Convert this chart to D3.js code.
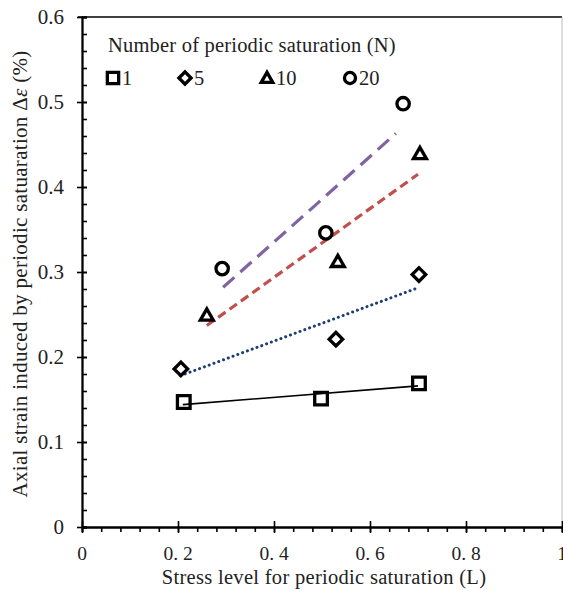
<!DOCTYPE html>
<html><head><meta charset="utf-8">
<script src="https://cdn.jsdelivr.net/npm/d3@7"></script>
<style>body{margin:0;background:#fff}svg{display:block}text{font-family:"Liberation Serif","Times New Roman",serif;fill:#222}</style>
</head><body><svg id="c" width="563" height="593"></svg>
<script>
const xTicks=[0,0.2,0.4,0.6,0.8,1];
const xTickLabels=["0","0. 2","0. 4","0. 6","0. 8","1"];
const yTicks=[0,0.1,0.2,0.3,0.4,0.5,0.6];
const yTickLabels=["0","0.1","0.2","0.3","0.4","0.5","0.6"];
const seriesNames=["1","5","10","20"];
const n1X=[0.212,0.498,0.702], n1Y=[0.147,0.151,0.169];
const n5X=[0.206,0.529,0.702], n5Y=[0.186,0.221,0.297];
const n10X=[0.260,0.533,0.704], n10Y=[0.249,0.312,0.439];
const n20X=[0.292,0.508,0.669], n20Y=[0.304,0.346,0.498];
const trendX=[[0.21,0.70],[0.205,0.698],[0.26,0.70],[0.294,0.654]];
const trendY=[[0.144,0.166],[0.178,0.281],[0.237,0.415],[0.282,0.463]];

const svg=d3.select("#c");
const x=d3.scaleLinear().domain([0,1]).range([82,562]);
const y=d3.scaleLinear().domain([0,0.6]).range([527,17]);

// frame
svg.append("line").attr("x1",x(0)-4).attr("x2",x(1)).attr("y1",y(0.6)).attr("y2",y(0.6)).attr("stroke","#000").attr("stroke-width",1.5);
svg.append("line").attr("x1",x(1)).attr("x2",x(1)).attr("y1",y(0.6)).attr("y2",y(0)).attr("stroke","#bbb").attr("stroke-width",1);

// x axis
const gx=svg.append("g").attr("transform",`translate(0,${y(0)})`);
gx.call(d3.axisBottom(x).tickValues(d3.range(0,1.0001,0.04)).tickSize(5).tickFormat(""));
gx.append("g").call(d3.axisBottom(x).tickValues(xTicks).tickSizeInner(6).tickSizeOuter(0).tickFormat(""))
  .selectAll(".tick line").attr("y1",-6);
gx.selectAll("path.domain").attr("stroke","#000").attr("stroke-width",1.8);
gx.selectAll("line").attr("stroke","#000").attr("stroke-width",1.6);
gx.selectAll(".lbl").data(xTicks).enter().append("text")
  .attr("x",d=>x(d)).attr("y",33).attr("text-anchor","middle").attr("font-size",19.5).text((d,i)=>xTickLabels[i]);

// y axis
const gy=svg.append("g").attr("transform",`translate(${x(0)},0)`);
gy.call(d3.axisRight(y).tickValues(d3.range(0,0.6001,0.02)).tickSize(5).tickFormat(""));
gy.append("g").call(d3.axisLeft(y).tickValues(yTicks).tickSizeInner(5).tickSizeOuter(0).tickFormat(""))
  .selectAll(".tick line").attr("x2",5).attr("x1",-5);
gy.selectAll("path.domain").attr("stroke","#000").attr("stroke-width",1.8);
gy.selectAll("line").attr("stroke","#000").attr("stroke-width",1.6);
gy.selectAll(".lbl").data(yTicks).enter().append("text")
  .attr("x",-18).attr("y",d=>y(d)+7).attr("text-anchor","end").attr("font-size",21).text((d,i)=>yTickLabels[i]);

// titles
svg.append("text").attr("x",324).attr("y",584).attr("text-anchor","middle").attr("font-size",20.5).attr("letter-spacing",0.3)
  .text("Stress level for periodic saturation (L)");
const yt=svg.append("text").attr("transform","translate(27,274) rotate(-90)").attr("text-anchor","middle").attr("font-size",21).attr("letter-spacing",0.3);
yt.append("tspan").text("Axial  strain induced by periodic satuaration Δ");
yt.append("tspan").attr("font-style","italic").text("ε");
yt.append("tspan").text(" (%)");

// trend lines
const tStyles=[
 {c:"#000",w:1.6,d:null,cap:"butt"},
 {c:"#1F3F73",w:3,d:"0.1,5",cap:"round"},
 {c:"#C0504D",w:3.2,d:"9,5",cap:"butt"},
 {c:"#8064A2",w:3.2,d:"15,8",cap:"butt"}];
trendX.forEach((tx,i)=>{
  const l=svg.append("line").attr("x1",x(tx[0])).attr("x2",x(tx[1])).attr("y1",y(trendY[i][0])).attr("y2",y(trendY[i][1]))
   .attr("stroke",tStyles[i].c).attr("stroke-width",tStyles[i].w).attr("stroke-linecap",tStyles[i].cap);
  if(tStyles[i].d) l.attr("stroke-dasharray",tStyles[i].d);
});

// markers
const sym=[d3.symbolSquare,d3.symbolSquare,d3.symbolTriangle,d3.symbolCircle];
const sizes=[160,92,72,120];
const xs=[n1X,n5X,n10X,n20X], ys=[n1Y,n5Y,n10Y,n20Y];
function drawSym(g,k,cx,cy,scale){
  const p=g.append("path").attr("d",d3.symbol().type(sym[k]).size(sizes[k]*scale)())
   .attr("fill","none").attr("stroke","#000").attr("stroke-width",3.3).attr("stroke-linejoin","miter");
  if(k==1) p.attr("transform",`translate(${cx},${cy}) rotate(45)`);
  else if(k==2) p.attr("transform",`translate(${cx},${cy+1})`);
  else p.attr("transform",`translate(${cx},${cy})`);
}
xs.forEach((arr,k)=>arr.forEach((v,j)=>drawSym(svg,k,x(v),y(ys[k][j]),1)));

// legend
svg.append("text").attr("x",108).attr("y",52).attr("font-size",20.5).attr("letter-spacing",0.2).text("Number of periodic saturation (N)");
const legX=[113,185,267,350];
seriesNames.forEach((n,k)=>{
  drawSym(svg,k,legX[k],78,0.8);
  svg.append("text").attr("x",legX[k]+9).attr("y",85).attr("font-size",20.5).text(n);
});
</script></body></html>
